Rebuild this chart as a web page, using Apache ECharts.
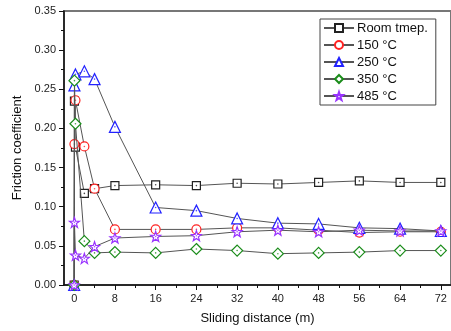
<!DOCTYPE html>
<html>
<head>
<meta charset="utf-8">
<script src="https://cdn.jsdelivr.net/npm/echarts@6/dist/echarts.min.js"></script>
<style>
    html, body { margin: 0; padding: 0; background: #fff; }
    #main { width: 451px; height: 331px; }
</style>
</head>
<body>
<div id="main"></div>
<script>
    // sliding distance (m) of each measurement
    var dist = [0, 0.05, 0.25, 2, 4, 8, 16, 24, 32, 40, 48, 56, 64, 72];
    var names = ['Room tmep.', '150 °C', '250 °C', '350 °C', '485 °C'];
    var roomTemp = [0, 0.235, 0.176, 0.117, 0.123, 0.127, 0.128, 0.127, 0.130, 0.129, 0.131, 0.133, 0.131, 0.131];
    var t150 = [0, 0.180, 0.236, 0.177, 0.123, 0.071, 0.071, 0.071, 0.073, 0.073, 0.070, 0.067, 0.068, 0.068];
    var t250 = [0, 0.255, 0.269, 0.273, 0.263, 0.202, 0.099, 0.095, 0.085, 0.079, 0.078, 0.073, 0.072, 0.069];
    var t350 = [0, 0.261, 0.206, 0.056, 0.041, 0.042, 0.041, 0.046, 0.044, 0.040, 0.041, 0.042, 0.044, 0.044];
    var t485 = [0, 0.080, 0.038, 0.034, 0.049, 0.060, 0.062, 0.063, 0.068, 0.070, 0.068, 0.070, 0.069, 0.069];
    var xTicks = [0, 8, 16, 24, 32, 40, 48, 56, 64, 72];
    var xMinorTicks = [4, 12, 20, 28, 36, 44, 52, 60, 68];

    var star = 'path://M0,-10L2.35,-3.24L9.51,-3.09L3.8,1.24L5.88,8.09L0,4L-5.88,8.09L-3.8,1.24L-9.51,-3.09L-2.35,-3.24Z';
    var styles = [
        { data: roomTemp, color: '#222222', symbol: 'rect', size: 8 },
        { data: t150, color: '#ff2222', symbol: 'circle', size: 9 },
        { data: t250, color: '#2222ff', symbol: 'triangle', size: 11 },
        { data: t350, color: '#1a8c1a', symbol: 'diamond', size: 11 },
        { data: t485, color: '#9933ff', symbol: star, size: 10 }
    ];

    function pairs(values) {
        var out = [];
        for (var i = 0; i < dist.length; i++) {
            out.push([dist[i], values[i]]);
        }
        return out;
    }

    var series = [];
    styles.forEach(function (s, i) {
        series.push({
            name: names[i],
            type: 'line',
            data: pairs(s.data),
            symbol: s.symbol,
            symbolSize: s.size,
            showAllSymbol: true,
            lineStyle: { color: '#555', width: 1 },
            itemStyle: { color: '#fff', borderColor: s.color, borderWidth: 1.2 },
            z: 2 + i
        });
    });
    // little centre dots in the hollow markers
    styles.forEach(function (s, i) {
        series.push({
            name: names[i] + ' dot',
            type: 'scatter',
            data: pairs(s.data),
            symbol: 'circle',
            symbolSize: 1.6,
            silent: true,
            itemStyle: { color: s.color },
            z: 2 + i
        });
    });

    var font = 'Liberation Sans';
    var chartDom = document.getElementById('main');
    var myChart = echarts.init(chartDom);
    var option = {
        animation: false,
        textStyle: { fontFamily: font },
        grid: {
            left: 64,
            top: 11,
            width: 390,
            height: 274,
            show: true,
            borderColor: '#777',
            borderWidth: 2
        },
        legend: {
            data: names,
            orient: 'vertical',
            left: 320,
            top: 19,
            padding: [2, 8, 2, 3],
            itemGap: 3,
            itemWidth: 30,
            itemHeight: 10,
            borderColor: '#444',
            borderWidth: 1,
            textStyle: { fontFamily: font, fontSize: 13, color: '#111', lineHeight: 14, padding: [0, 0, 0, -2] }
        },
        xAxis: [
            {
                type: 'value',
                min: -2,
                max: 74,
                name: 'Sliding distance (m)',
                nameLocation: 'middle',
                nameGap: 27,
                nameTextStyle: { fontFamily: font, fontSize: 13, color: '#111' },
                splitLine: { show: false },
                axisLine: { show: true, onZero: false, lineStyle: { color: '#111', width: 1.5 } },
                axisTick: { show: true, customValues: xTicks, length: 5, lineStyle: { color: '#111' } },
                axisLabel: { customValues: xTicks, margin: 8, fontFamily: font, fontSize: 11, color: '#222' }
            },
            {
                // minor ticks only
                type: 'value',
                position: 'bottom',
                min: -2,
                max: 74,
                splitLine: { show: false },
                axisLine: { show: false, onZero: false },
                axisTick: { show: true, customValues: xMinorTicks, length: 3, lineStyle: { color: '#111' } },
                axisLabel: { show: false }
            }
        ],
        yAxis: {
            type: 'value',
            min: 0,
            max: 0.35,
            interval: 0.05,
            name: 'Friction coefficient',
            nameLocation: 'middle',
            nameRotate: 90,
            nameGap: 40,
            nameTextStyle: { fontFamily: font, fontSize: 13, color: '#111' },
            splitLine: { show: false },
            axisLine: { show: true, onZero: false, lineStyle: { color: '#111', width: 1.5 } },
            axisTick: { show: true, length: 5, lineStyle: { color: '#111' } },
            minorTick: { show: true, splitNumber: 2, length: 3, lineStyle: { color: '#111' } },
            axisLabel: {
                margin: 8,
                fontFamily: font,
                fontSize: 11,
                color: '#222',
                formatter: function (v) { return v.toFixed(2); }
            }
        },
        series: series
    };

    option && myChart.setOption(option);
</script>
</body>
</html>
